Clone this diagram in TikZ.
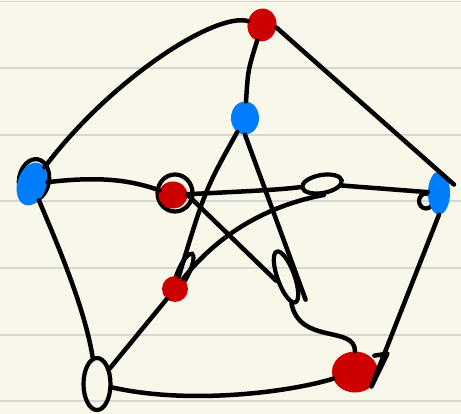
\documentclass[tikz,border=0pt]{standalone}
\usepackage{tikz}
\usetikzlibrary{shapes.geometric}

\definecolor{paper}{RGB}{248,247,233}
\definecolor{ruling}{RGB}{214,214,210}
\definecolor{inkred}{RGB}{204,0,0}
\definecolor{inkblue}{RGB}{0,125,250}

\begin{document}
\begin{tikzpicture}[x=1pt, y=-1pt,
  ink/.style={line width=4.5pt, line cap=round, line join=round},
  redvtx/.style={ellipse, fill=inkred, inner sep=0pt},
  bluevtx/.style={ellipse, fill=inkblue, inner sep=0pt},
  loopvtx/.style={ellipse, draw=black, line width=4.2pt, inner sep=0pt}]

% foglio a righe
\fill[paper] (0,0) rectangle (461,414);
\useasboundingbox (0,0) rectangle (461,414);
\foreach \y in {1.5, 68, 135, 201, 268, 335, 401}
  \draw[ruling, line width=1.8pt] (0,\y) -- (461,\y);

% anelli dietro i vertici
\node[loopvtx, minimum width=30pt, minimum height=42pt, rotate=-10] (Bring) at (34,180) {};
\node[loopvtx, minimum width=14pt, minimum height=15pt] (Cring) at (426,201) {};
\node[loopvtx, minimum width=35pt, minimum height=37pt] (Gring) at (175,193) {};
\node[loopvtx, minimum width=11pt, minimum height=38pt, rotate=-25] (Jring) at (184,271) {};

% vertici esterni
\node[redvtx, minimum width=29pt, minimum height=33pt, rotate=-10] (A) at (262,25) {};
\node[bluevtx, minimum width=29pt, minimum height=44pt, rotate=-18] (B) at (32,184) {};
\node[bluevtx, minimum width=22pt, minimum height=43pt] (C) at (439,193) {};
\node[redvtx, minimum width=46pt, minimum height=41pt] (D) at (355,372) {};
\node[loopvtx, minimum width=27pt, minimum height=52pt] (E) at (97,384) {};

% vertici interni
\node[bluevtx, minimum width=28pt, minimum height=33pt] (F) at (245,118) {};
\node[redvtx, minimum width=29pt, minimum height=27pt] (G) at (173,195) {};
\node[loopvtx, minimum width=40pt, minimum height=18pt, rotate=10] (H) at (322,184) {};
\node[loopvtx, minimum width=17pt, minimum height=54pt, rotate=20] (I) at (286,277) {};
\node[redvtx, minimum width=26pt, minimum height=26pt] (J) at (175,289) {};

% ciclo esterno
\draw[ink] (A) .. controls (215,12) and (110,80) .. (B);
\draw[ink, shorten >=-20pt] (A.east) -- (C.north);
\draw[ink] (B) .. controls (60,250) and (85,310) .. (E);
\draw[ink] (C.south) -- (D.south east) -- ++(16,-33) -- ++(-13,2);
\draw[ink] (E) .. controls (190,405) and (290,392) .. (D);

% raggi
\draw[ink] (A) .. controls (248,70) .. (F);
\draw[ink] (B) .. controls (100,176) and (130,180) .. (G);
\draw[ink] (H) -- (C);
\draw[ink] (E) -- (J);
\draw[ink] (I) .. controls (300,345) and (355,325) .. (D);

% stella interna
\draw[ink] (F) .. controls (205,190) .. (J);
\draw[ink, shorten >=-28pt] (F.south) -- (I.east);
\draw[ink] (G) .. controls (230,192) and (280,190) .. (H);
\draw[ink] (G.east) -- (I.west);
\draw[ink] (H.south) .. controls (270,205) and (220,232) .. (J);

\end{tikzpicture}
\end{document}
